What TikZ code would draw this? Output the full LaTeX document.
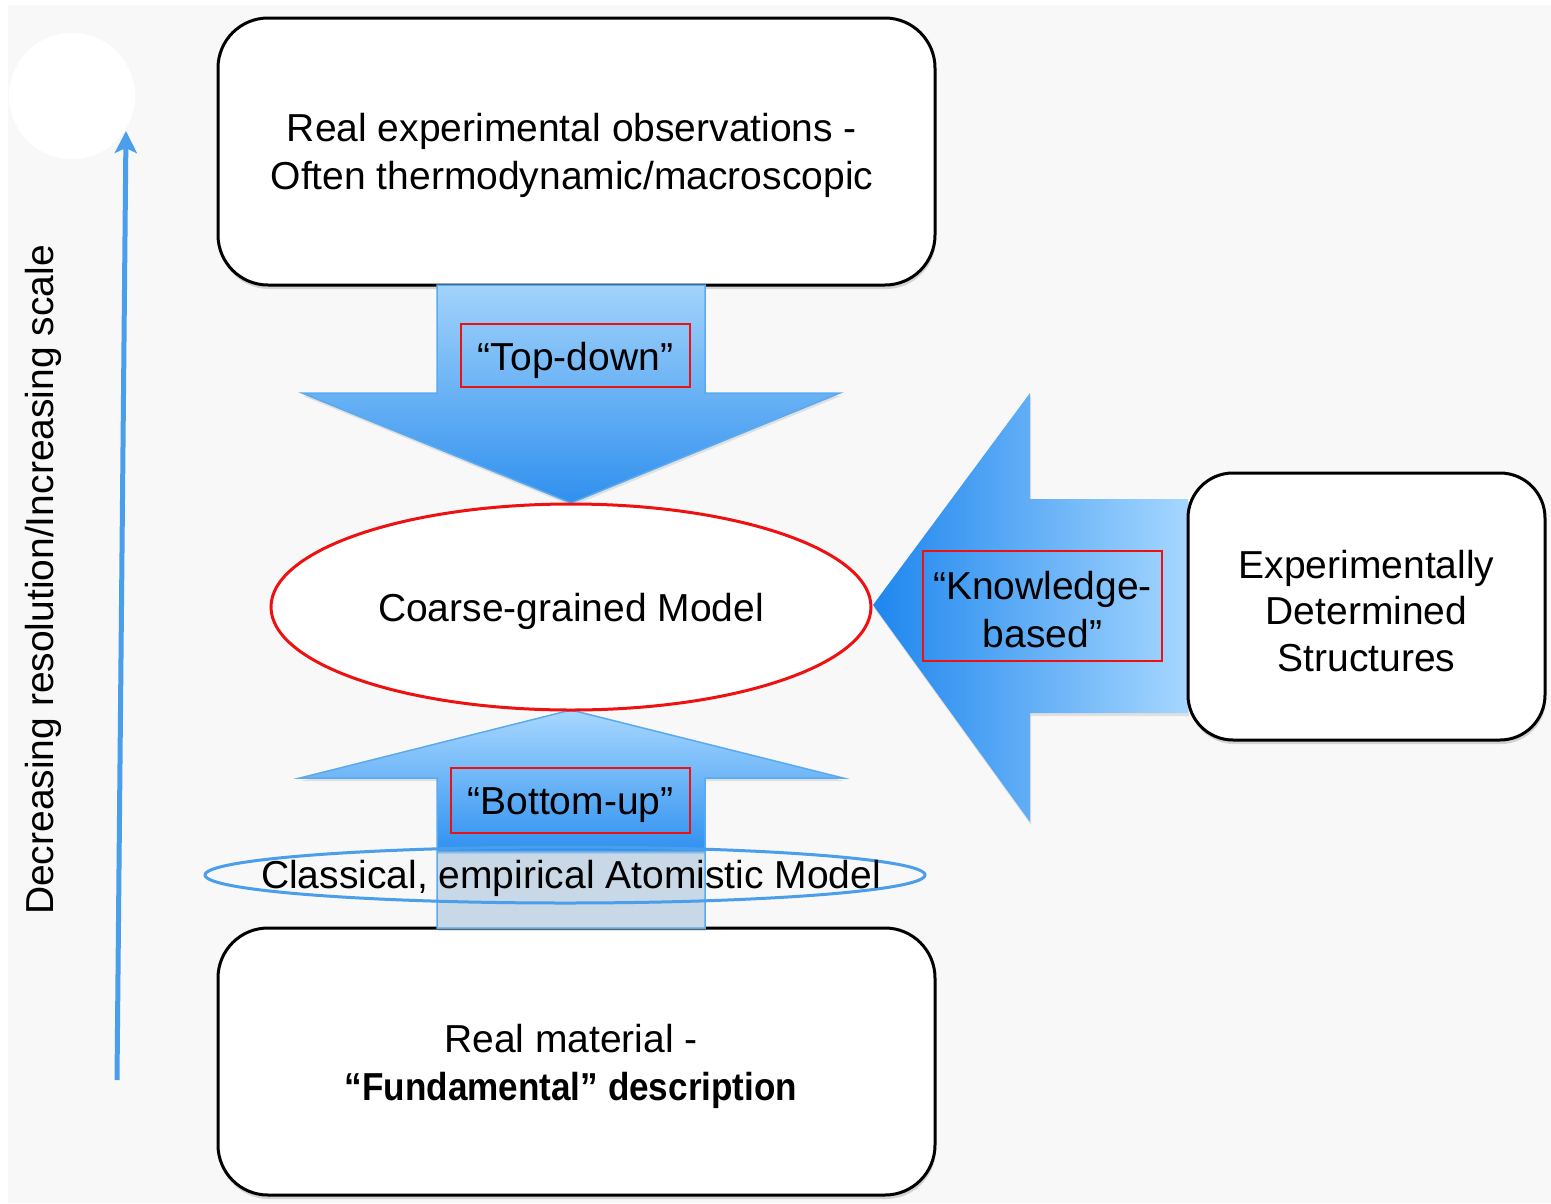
\documentclass[tikz,border=0pt]{standalone}
\usepackage{fontspec}
\setmainfont{Liberation Sans}
\newfontfamily\boldnarrow{Liberation Sans Bold}[FakeStretch=0.9]
\usetikzlibrary{shapes.geometric,shadows,arrows.meta}
\definecolor{bggray}{HTML}{F8F8F8}
\definecolor{axisblue}{HTML}{4A9EEA}
\definecolor{arrowline}{HTML}{5AAAF0}
\definecolor{tdlight}{HTML}{A2D3FB}
\definecolor{tddark}{HTML}{3090EE}
\definecolor{kbdark}{HTML}{1E86EE}
\definecolor{kblight}{HTML}{A6D7FF}
\definecolor{bulight}{HTML}{A8D8FF}
\definecolor{budark}{HTML}{3192F0}
\definecolor{bugray}{HTML}{C9D8E7}
\definecolor{redline}{HTML}{EE1111}
\pgfdeclareverticalshading{buShade}{100bp}{color(0bp)=(bugray); color(25bp)=(bugray); color(42bp)=(bugray); color(43bp)=(budark); color(75bp)=(bulight); color(100bp)=(bulight)}
\begin{document}
\begin{tikzpicture}[x=1pt,y=-1pt,
  txt/.style={font=\fontsize{39}{48}\selectfont, align=center, inner sep=0pt},
  roundbox/.style={draw=black, line width=3pt, fill=white, rounded corners=50pt,
    drop shadow={shadow xshift=1pt, shadow yshift=-4pt, opacity=0.3}},
  labelbox/.style={draw=redline, line width=2.2pt, inner sep=0pt},
  blockarrow/.style={draw=arrowline, line width=1.5pt, line join=miter,
    drop shadow={shadow xshift=1pt, shadow yshift=-3pt, opacity=0.2}},
]
\useasboundingbox (0,0) rectangle (1551,1203);
\fill[white] (0,0) rectangle (1551,1203);
\fill[bggray] (8,5) rectangle (1551,1203);

% white circle
\fill[white] (72,96) circle[radius=63pt];

% scale axis
\coordinate (axbot) at (117,1080);
\coordinate (axtop) at (126,131);
\draw[axisblue, line width=5pt, -{Stealth[length=22pt,width=22pt,inset=5pt]}] (axbot) -- (axtop);
\node[txt, rotate=90] (axlabel) at (43,580) {Decreasing resolution/Increasing scale};

% top box
\node[roundbox, minimum width=717pt, minimum height=267pt] (top) at (576.5,151.5) {};
\node[txt] (toptext) at (572,155) {Real experimental observations -\\Often thermodynamic/macroscopic};

% bottom box
\node[roundbox, minimum width=717pt, minimum height=267pt] (bot) at (576.5,1061.5) {};
\node[txt] (bottext) at (571,1066) {Real material -\\{\boldnarrow “Fundamental” description}};

% top-down arrow
\path[blockarrow, top color=tdlight, bottom color=tddark]
  (437,285) -- (705,285) -- (705,393) -- (840,393) -- (571,503) -- (302,393) -- (437,393) -- cycle;
\node[labelbox, minimum width=229pt, minimum height=63pt] (tdbox) at (575.5,355.5) {};
\node[txt] (tdtext) at (575.5,360) {“Top-down”};

% knowledge-based arrow
\path[blockarrow, draw=none, left color=kbdark, right color=kblight]
  (1188,499) -- (1030,499) -- (1030,393) -- (873,605) -- (1030,822) -- (1030,713) -- (1188,713) -- cycle;
\node[labelbox, minimum width=239pt, minimum height=110pt] (kbbox) at (1042.5,606) {};
\node[txt] (kbtext) at (1042.5,610) {“Knowledge-\\based”};

% right box
\node[roundbox, rounded corners=45pt, minimum width=357pt, minimum height=267pt] (exp) at (1366.5,606.5) {};
\node[txt, font=\fontsize{39}{46.5}\selectfont] (exptext) at (1366.5,611) {Experimentally\\Determined\\Structures};

% bottom-up arrow
\path[blockarrow, shading=buShade]
  (437,928) -- (437,778) -- (300,778) -- (571,710) -- (843,778) -- (705,778) -- (705,928) -- cycle;
\node[labelbox, minimum width=239pt, minimum height=65pt] (bubox) at (570.5,800.5) {};
\node[txt] (butext) at (570.5,805) {“Bottom-up”};

% coarse-grained model
\node[ellipse, draw=redline, line width=3pt, fill=white, minimum width=600pt, minimum height=206pt, inner sep=0pt] (cg) at (571,607) {};
\node[txt] (cgtext) at (571,611) {Coarse-grained Model};

% atomistic model
\node[ellipse, draw=axisblue, line width=3pt, minimum width=720pt, minimum height=56pt, inner sep=0pt] (atom) at (565,875) {};
\node[txt] (atomtext) at (571,878) {Classical, empirical Atomistic Model};
\end{tikzpicture}
\end{document}
